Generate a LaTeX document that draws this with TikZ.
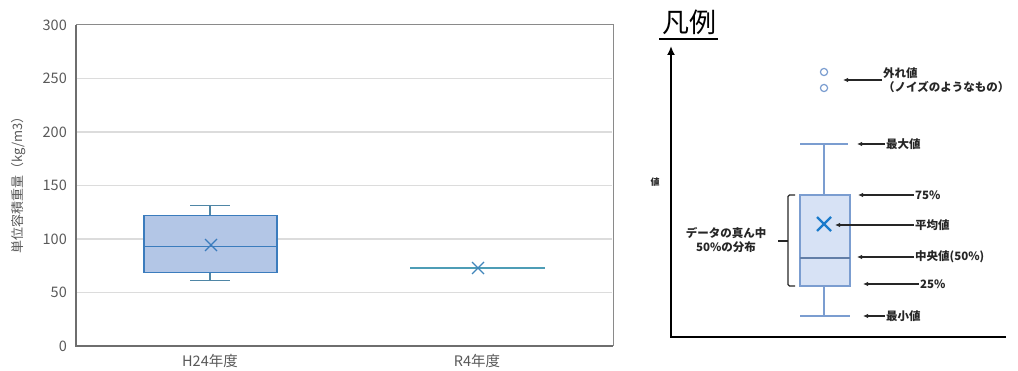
\documentclass[tikz,border=0pt]{standalone}
\usepackage{fontspec}
\setmainfont{Noto Sans CJK JP}
\usetikzlibrary{positioning,arrows.meta}

\definecolor{gridgray}{HTML}{DCDCDC}
\definecolor{framegray}{HTML}{8A8A8A}
\definecolor{tickgray}{HTML}{595959}
\definecolor{boxfill}{HTML}{B3C6E6}
\definecolor{boxline}{HTML}{3B7CBD}
\definecolor{whisk}{HTML}{4F86A6}
\definecolor{rline}{HTML}{4E9DB6}
\definecolor{legfill}{HTML}{D7E2F5}
\definecolor{legline}{HTML}{7B9DD0}
\definecolor{legmark}{HTML}{1B7BCB}
\definecolor{labdark}{HTML}{262626}

\tikzset{
  grid line/.style={gridgray, line width=1.2pt},
  tick/.style={text=tickgray, font=\fontsize{14.5}{15}\selectfont, inner sep=0pt},
  leglab/.style={text=labdark, font=\bfseries\fontsize{11.5}{13.5}\selectfont, inner sep=1pt, anchor=west},
  legarrow/.style={-{Latex[length=5pt,width=4.5pt]}, labdark, line width=1.4pt},
}

\begin{document}
\begin{tikzpicture}[x=1pt,y=-1pt]
\newcommand{\ybase}{346}
\newcommand{\yscl}{1.07}
\useasboundingbox (0,0) rectangle (1018,371);

% chart
\foreach \v in {50,100,...,250}
  \draw[grid line] (77,{\ybase-\yscl*\v}) -- (612,{\ybase-\yscl*\v});
\foreach \v in {0,50,...,300}
  \node[tick, anchor=east] (tick\v) at (67,{\ybase-\yscl*\v}) {\v};
\draw[framegray, line width=1pt] (76,25) rectangle (613,346);
\draw[framegray!80!black, line width=1.3pt] (76,25) -- (76,346) -- (613,346);
\node[tick, rotate=90, font=\fontsize{13}{14}\selectfont] (ytitle) at (19,182) {単位容積重量（kg/m3）};

% H24
\draw[whisk, line width=1.3pt] (210,{\ybase-\yscl*122}) -- (210,{\ybase-\yscl*131})
  (190,{\ybase-\yscl*131}) -- (230,{\ybase-\yscl*131});
\draw[whisk, line width=1.3pt] (210,{\ybase-\yscl*69}) -- (210,{\ybase-\yscl*61})
  (190,{\ybase-\yscl*61}) -- (230,{\ybase-\yscl*61});
\draw[boxline, fill=boxfill, line width=1.3pt] (144,{\ybase-\yscl*122}) rectangle (277,{\ybase-\yscl*69});
\draw[boxline, line width=1.5pt] (144,{\ybase-\yscl*93}) -- (277,{\ybase-\yscl*93});
\draw[boxline, line width=1.3pt] (205,239) -- (217,251) (205,251) -- (217,239);
\node[tick] (h24) at (210,361) {H24年度};

% R4
\draw[rline, line width=1.4pt] (410,268) -- (545,268);
\draw[boxline!70!rline, line width=1.3pt] (472,262) -- (484,274) (472,274) -- (484,262);
\node[tick] (r4) at (477,361) {R4年度};

% legend
\node[font=\fontsize{27}{28}\selectfont, inner sep=0pt] (hanrei) at (689,22) {凡例};
\draw[black, line width=1.8pt] (659,39) -- (718,39);
\draw[black, line width=2.6pt, -{Latex[length=9pt,width=8pt]}] (1006,337) -- (671,337) -- (671,46);
\node[leglab, font=\bfseries\fontsize{9}{10}\selectfont, anchor=center] (atai) at (655,182) {値};

\draw[legline, line width=1.3pt] (824,195) -- (824,144) (800,144) -- (848,144);
\draw[legline, line width=1.3pt] (824,286) -- (824,316) (800,316) -- (850,316);
\draw[legline, fill=legfill, line width=1.3pt] (800,195) rectangle (850,286);
\draw[legline!80!black, line width=1.4pt] (800,258) -- (850,258);
\draw[legmark, line width=2.4pt] (817,217) -- (831,231) (817,231) -- (831,217);
\draw[legline, line width=1.2pt] (824,72) circle (3.6pt) (824,88) circle (3.6pt);

\node[leglab, align=left] (outl) at (882,80) {外れ値\\（ノイズのようなもの）};
\node[leglab] (maxv) at (885,144) {最大値};
\node[leglab] (q3) at (914,195) {75\%};
\node[leglab] (mean) at (914,225) {平均値};
\node[leglab] (med) at (914,257) {中央値(50\%)};
\node[leglab] (q1) at (919,284) {25\%};
\node[leglab] (minv) at (885,316) {最小値};

\coordinate (outtip) at (843,80);
\coordinate (maxtip) at (857,144);
\coordinate (q3tip) at (858,195);
\coordinate (meantip) at (835,225);
\coordinate (medtip) at (857,257);
\coordinate (q1tip) at (863,284);
\coordinate (mintip) at (863,316);
\draw[legarrow] (outl.west |- outtip) -- (outtip);
\draw[legarrow] (maxv.west) -- (maxtip);
\draw[legarrow] (q3.west) -- (q3tip);
\draw[legarrow] (mean.west) -- (meantip);
\draw[legarrow] (med.west) -- (medtip);
\draw[legarrow] (q1.west) -- (q1tip);
\draw[legarrow] (minv.west) -- (mintip);

\draw[labdark, line width=1.4pt, rounded corners=1.5pt] (795,195) -- (788,195) -- (788,286) -- (795,286);
\draw[labdark, line width=1.4pt] (788,241) -- (778,241);
\node[leglab, anchor=center, align=center] (mid50) at (726,240) {データの真ん中\\50\%の分布};
\end{tikzpicture}
\end{document}
